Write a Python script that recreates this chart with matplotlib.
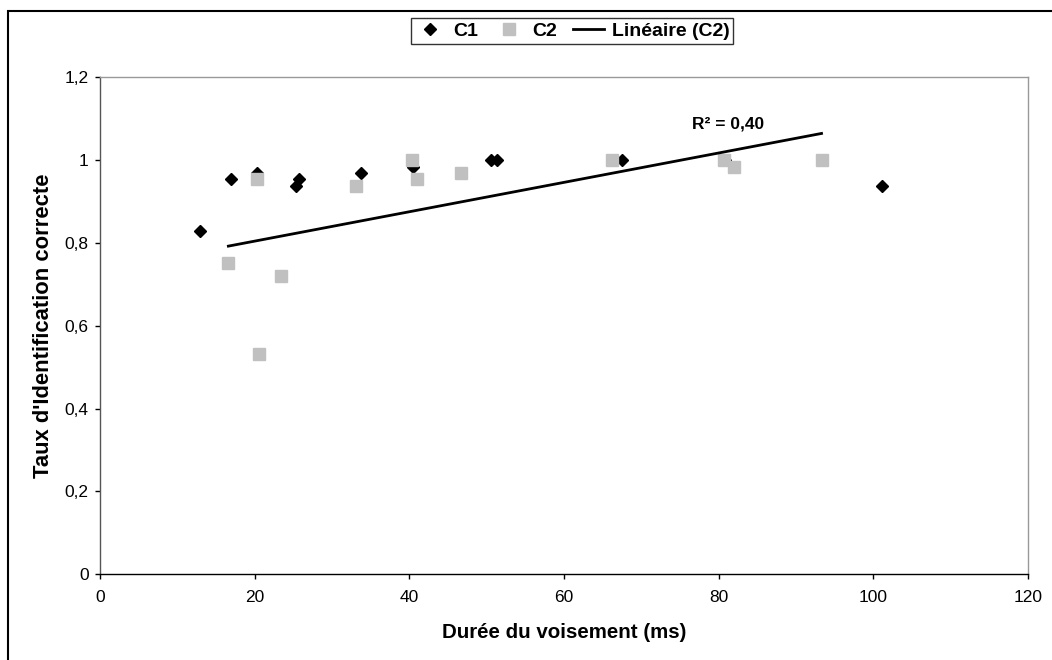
import numpy as np
import matplotlib
matplotlib.use("Agg")
import matplotlib.pyplot as plt
from matplotlib.patches import Rectangle

plt.rcParams['font.family'] = ['Liberation Sans', 'DejaVu Sans']

# Data
c1_x = [12.9, 16.9, 20.3, 25.7, 25.3, 33.7, 40.5, 50.5, 51.3, 67.5, 80.8, 101.1]
c1_y = [0.828, 0.953, 0.969, 0.953, 0.938, 0.969, 0.984, 1.0, 1.0, 1.0, 1.0, 0.938]
c2_x = [16.6, 20.3, 20.6, 23.4, 33.1, 40.4, 41.0, 46.7, 66.2, 80.7, 82.0, 93.3]
c2_y = [0.750, 0.953, 0.531, 0.719, 0.938, 1.0, 0.953, 0.969, 1.0, 1.0, 0.984, 1.0]
x_ticks = [0, 20, 40, 60, 80, 100, 120]
x_labels = ['0', '20', '40', '60', '80', '100', '120']
y_ticks = [0, 0.2, 0.4, 0.6, 0.8, 1.0, 1.2]
y_labels = ['0', '0,2', '0,4', '0,6', '0,8', '1', '1,2']
r2_text = 'R² = 0,40'

W, H = 1052, 660
fig = plt.figure(figsize=(W / 100, H / 100), dpi=100)
ax = fig.add_axes([100 / W, (H - 574.3) / H, 928 / W, 497.3 / H])

# trendline
coef = np.polyfit(c2_x, c2_y, 1)
xs = np.array([min(c2_x), max(c2_x)])
ax.plot(c2_x, c2_y, linestyle='none', marker='s', ms=8, color='#c0c0c0',
        markeredgecolor='#c0c0c0', label='C2', zorder=3)
ax.plot(c1_x, c1_y, linestyle='none', marker='D', ms=6.3, color='black',
        label='C1', zorder=2)
ax.plot(xs, np.polyval(coef, xs), color='black', lw=2, label='Linéaire (C2)', zorder=4)

ax.text(81.2, 1.087, r2_text, ha='center', va='center', fontsize=12.5,
        fontweight='bold')

ax.set_xlim(0, 120)
ax.set_ylim(0, 1.2)
ax.set_xticks(x_ticks)
ax.set_xticklabels(x_labels)
ax.set_yticks(y_ticks)
ax.set_yticklabels(y_labels)
ax.tick_params(axis='both', direction='out', length=3.6, width=1, labelsize=12.5,
               colors='black')
ax.tick_params(axis='x', pad=8)
ax.tick_params(axis='y', pad=4.5)

for s in ['top', 'right']:
    ax.spines[s].set_color('#999999')
ax.spines['left'].set_color('#555555')
ax.spines['bottom'].set_color('black')
for s in ax.spines.values():
    s.set_linewidth(1)

ax.set_xlabel('Durée du voisement (ms)', fontsize=14.8, fontweight='bold', va='center')
ax.xaxis.set_label_coords(0.5, (574.3 - 633) / 497.3)
ax.set_ylabel("Taux d'Identification correcte", fontsize=15.8, fontweight='bold', va='center')
ax.yaxis.set_label_coords((44 - 100) / 928, 0.5)

h, l = ax.get_legend_handles_labels()
order = [1, 0, 2]
leg = fig.legend([h[i] for i in order], [l[i] for i in order], loc='center',
                 bbox_to_anchor=(572 / W, 1 - 31 / H), ncol=3, frameon=True,
                 fancybox=False, edgecolor='black',
                 prop={'weight': 'bold', 'size': 14}, handlelength=1.6,
                 handletextpad=0.4, columnspacing=0.8, borderpad=0.2,
                 borderaxespad=0)
leg.get_frame().set_linewidth(1)

# outer border
fig.add_artist(Rectangle((8 / W, -0.1), 1.2, 1 - 11 / H + 0.1, transform=fig.transFigure,
                         fill=False, edgecolor='black', lw=1.5))

fig.savefig('out.png', dpi=100)
